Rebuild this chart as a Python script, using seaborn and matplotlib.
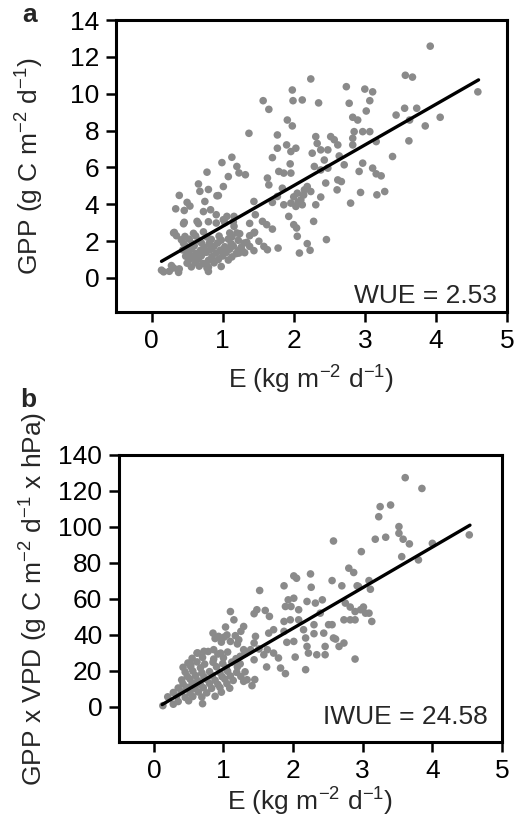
import numpy as np
import pandas as pd
import seaborn as sns
import matplotlib
matplotlib.use("Agg")
import matplotlib.pyplot as plt

# ---------------- data ----------------
# Panel a: E (kg m-2 d-1) vs GPP (g C m-2 d-1)
e_a = [0.14, 0.28, 0.31, 0.39, 0.78,
       0.39, 0.34, 0.50, 0.54, 0.46, 0.66, 0.68, 0.78, 0.80, 0.92, 0.99, 1.13, 1.20, 1.23, 1.32,
       1.08, 1.01, 0.94, 0.75, 0.73, 0.83, 0.91, 1.01, 1.06, 1.16, 0.64, 0.45, 0.31, 0.35,
       1.37, 1.57, 1.65, 1.44, 1.46, 1.63, 1.65, 1.70, 1.77, 1.77, 1.79, 1.86, 1.96, 1.91, 1.98,
       1.90, 1.96, 2.03, 1.95, 1.84, 1.86, 1.96, 1.93, 2.00, 2.04, 2.05, 1.98, 1.99, 2.12, 2.24,
       2.35, 2.26, 2.31, 2.33, 2.38, 2.43, 2.48, 2.52, 2.57, 2.62, 2.29, 2.38, 2.48, 2.45, 2.62,
       2.67, 2.61, 2.38, 2.31, 2.28, 2.15, 2.05, 2.10, 2.19, 2.24, 2.03, 2.12, 1.77, 1.70, 1.56,
       1.62, 1.70, 1.44, 1.38, 1.34, 1.44, 1.51, 1.58, 1.63, 1.78, 2.08, 2.19, 2.23, 2.46, 2.74,
       3.00, 3.11, 2.78, 3.07, 3.02, 2.83, 2.90, 2.85, 2.97, 3.07, 2.83, 2.83, 3.16, 2.71, 2.64,
       2.97, 3.11, 3.16, 3.23, 2.92, 2.94, 2.80, 3.17, 3.28, 3.39, 3.44, 3.56, 3.57, 3.67, 3.73,
       3.63, 3.62, 3.85, 3.92, 4.06, 4.59,
       1.16, 1.20, 1.23, 1.27, 2.00, 2.06, 2.14,
       0.46, 0.66, 0.80, 0.91, 1.03, 1.15, 1.38,
       0.32, 0.59, 0.73, 1.10, 1.24, 1.45,
       0.42, 0.53, 0.67, 0.84, 0.98, 1.08, 1.22,
       0.49, 0.60, 0.74, 0.88, 1.03, 1.15, 1.26, 1.38,
       0.52, 0.63, 0.77, 0.91, 1.05, 1.19, 1.31,
       0.53, 0.66, 0.80, 0.94, 1.08,
       0.56, 0.67, 0.80, 0.98,
       0.17, 0.25, 0.38, 0.80,
       0.47, 0.62, 0.78, 0.95, 1.13,
       0.45, 0.58, 0.70, 0.81, 0.93, 1.12, 1.30,
       0.44, 0.56, 0.69, 0.83, 0.97, 1.10, 1.22,
       0.48, 0.58, 0.70, 0.85, 1.00, 1.13,
       0.50, 0.62, 0.73, 0.88]
gpp_a = [0.42, 0.67, 0.54, 0.49, 0.54,
         4.48, 3.75, 4.10, 3.90, 3.66, 5.10, 4.70, 5.74, 4.80, 4.46, 6.26, 6.55, 6.05, 5.70, 5.60,
         5.50, 4.96, 4.47, 4.15, 3.60, 3.70, 3.43, 3.16, 3.34, 3.34, 3.07, 2.94, 2.44, 2.29,
         7.85, 9.62, 9.15, 4.15, 3.43, 5.42, 5.05, 6.53, 7.76, 7.04, 5.78, 5.69, 5.69, 8.57, 8.25,
         7.22, 6.86, 7.04, 6.19, 4.87, 3.97, 4.06, 3.34, 2.89, 2.71, 2.26, 10.20, 9.62, 9.66, 10.80,
         9.50, 6.77, 7.67, 7.30, 6.95, 6.40, 6.95, 7.67, 7.50, 7.22, 6.05, 5.86, 5.96, 5.15, 5.32,
         5.23, 4.78, 4.39, 3.97, 3.07, 4.78, 4.60, 4.24, 4.96, 4.69, 3.88, 3.97, 4.42, 4.10, 3.07,
         2.89, 2.65, 2.44, 2.29, 1.93, 1.48, 1.99, 1.71, 1.53, 1.62, 1.35, 1.86, 1.50, 2.08, 10.38,
         10.25, 10.10, 9.48, 9.62, 9.06, 8.72, 8.57, 7.94, 7.94, 7.94, 7.58, 7.22, 7.40, 6.14, 6.62,
         6.23, 5.96, 5.65, 5.54, 5.78, 4.64, 4.06, 4.51, 4.69, 6.59, 8.84, 9.21, 11.00, 10.90, 9.21,
         8.57, 7.44, 8.25, 12.58, 8.72, 10.10,
         2.80, 2.44, 1.35, 1.53, 4.40, 4.10, 4.50,
         3.02, 2.95, 3.05, 2.98, 3.00, 3.04, 2.96,
         2.47, 2.42, 2.50, 2.44, 2.40, 2.48,
         2.07, 2.10, 2.03, 2.09, 2.05, 2.11, 2.04,
         1.70, 1.74, 1.67, 1.72, 1.69, 1.73, 1.66, 1.71,
         1.36, 1.33, 1.39, 1.35, 1.38, 1.32, 1.37,
         0.98, 1.02, 0.95, 1.00, 0.97,
         0.60, 0.64, 0.58, 0.62,
         0.33, 0.36, 0.30, 0.35,
         2.25, 2.28, 2.22, 2.27, 2.23,
         1.88, 1.85, 1.91, 1.87, 1.90, 1.86, 1.89,
         1.52, 1.55, 1.50, 1.54, 1.51, 1.56, 1.49,
         1.18, 1.15, 1.20, 1.16, 1.19, 1.14,
         0.80, 0.83, 0.78, 0.82]

# Panel b: E (kg m-2 d-1) vs GPP x VPD
e_b = [0.13, 3.61, 3.85, 3.25, 3.40, 3.23, 3.52, 3.52, 3.58, 3.67, 4.00, 4.53, 3.18, 3.33, 2.58,
       2.98, 3.56, 3.80, 2.80, 2.87, 2.56, 2.70, 3.09, 3.11, 2.94, 2.25, 2.01, 2.05, 2.26, 1.87,
       1.52, 1.44, 1.48, 1.60, 1.66, 1.10, 1.15, 1.03, 0.85, 0.93, 1.01, 1.17, 1.10, 1.22, 1.93,
       2.01, 1.97, 1.89, 2.08, 1.87, 1.96, 2.08, 2.20, 2.32, 2.42, 2.39, 2.30, 2.15, 2.30, 2.44,
       2.58, 2.51, 2.56, 2.73, 2.82, 2.89, 2.75, 2.82, 2.89, 2.97, 3.01, 3.04, 3.09, 3.13, 2.92,
       2.73, 2.66, 2.61, 2.46, 2.46, 2.34, 2.22, 2.20, 2.18, 2.01, 1.91, 2.03, 2.18, 1.89, 1.82,
       1.79, 1.72, 1.63, 1.58, 1.62, 1.51, 1.44, 1.39, 1.29, 1.24, 2.89, 1.29, 1.41, 1.72, 1.87,
       1.44, 1.46, 1.65, 1.29,
       0.86, 0.96, 0.72, 0.62, 0.53, 0.88, 0.97, 1.05, 1.20, 1.25,
       0.63, 0.78, 0.92, 1.06, 1.31,
       0.49, 0.62, 0.73, 0.85, 0.99, 1.12, 1.24,
       0.45, 0.56, 0.69, 0.80, 0.95, 1.06, 1.19, 1.31,
       0.40, 0.52, 0.63, 0.76, 0.88, 1.02, 1.14, 1.34, 1.45,
       0.35, 0.47, 0.59, 0.71, 0.83, 0.95, 1.09,
       0.20, 0.33, 0.45, 0.56, 0.69, 0.88,
       0.28, 0.70,
       0.55, 0.70, 0.86, 1.00, 1.18,
       0.42, 0.53, 0.67, 0.90, 1.04, 1.20,
       0.48, 0.60, 0.72, 0.84, 0.98, 1.10, 1.25,
       0.42, 0.55, 0.67, 0.80, 0.92, 1.05,
       0.28, 0.40, 0.52, 0.64, 0.76, 0.97,
       0.35, 0.50]
iwue_b = [0.7, 127.4, 121.4, 111.3, 112.2, 105.7, 100.2, 96.5, 93.2, 90.6, 90.9, 95.6, 93.2, 94.3, 92.2,
          86.3, 83.5, 81.7, 77.1, 74.7, 70.2, 67.3, 70.2, 65.4, 66.9, 73.9, 72.8, 71.5, 66.5, 67.3,
          64.7, 51.8, 54.0, 53.6, 50.3, 53.0, 48.4, 44.4, 41.0, 39.2, 38.8, 39.6, 36.4, 37.3, 59.5,
          60.4, 55.8, 55.8, 54.0, 47.5, 48.4, 48.4, 58.6, 57.7, 59.5, 52.1, 45.7, 42.9, 40.7, 41.0,
          38.3, 45.7, 45.7, 48.4, 48.4, 48.4, 57.7, 55.5, 53.0, 54.0, 55.5, 52.1, 52.1, 47.5, 67.3,
          35.5, 33.6, 37.7, 33.6, 29.0, 29.0, 29.9, 33.6, 38.3, 36.4, 35.9, 27.7, 20.7, 18.5, 21.6,
          27.2, 29.9, 31.8, 29.0, 22.2, 32.2, 26.2, 31.8, 31.8, 28.1, 26.6, 14.2, 11.8, 42.9, 42.0,
          35.5, 39.2, 41.0, 44.7,
          31.8, 29.9, 30.9, 29.9, 23.5, 38.0, 36.0, 40.0, 35.0, 42.0,
          30.0, 30.8, 29.4, 30.5, 29.7,
          24.4, 25.0, 23.8, 24.8, 24.1, 24.9, 23.9,
          19.4, 19.9, 18.9, 19.6, 19.1, 19.8, 19.2, 19.5,
          15.0, 15.5, 14.6, 15.3, 14.8, 15.4, 14.7, 15.1, 15.2,
          10.5, 10.9, 10.2, 10.7, 10.3, 10.8, 10.4,
          5.6, 6.0, 5.3, 5.8, 5.5, 5.9,
          1.5, 1.8,
          27.0, 27.5, 26.6, 27.3, 26.8,
          22.0, 22.4, 21.7, 22.3, 21.8, 22.2,
          17.0, 17.4, 16.7, 17.3, 16.8, 17.2, 16.9,
          12.7, 13.1, 12.4, 13.0, 12.5, 12.9,
          8.0, 8.4, 7.7, 8.3, 7.8, 8.2,
          3.0, 3.4]

# regression line end points
fit_a_x = [0.14, 4.60]
fit_a_y = [0.90, 10.75]
fit_b_x = [0.12, 4.54]
fit_b_y = [1.3, 101.0]

yticks_a = [0, 2, 4, 6, 8, 10, 12, 14]
yticks_b = [0, 20, 40, 60, 80, 100, 120, 140]
xticks = [0, 1, 2, 3, 4, 5]

# ---------------- style ----------------
sns.set_style("ticks")
plt.rcParams["font.family"] = ["Liberation Sans", "DejaVu Sans"]
plt.rcParams["mathtext.fontset"] = "custom"
plt.rcParams["mathtext.rm"] = "Liberation Sans"
plt.rcParams["mathtext.it"] = "Liberation Sans:italic"
plt.rcParams["mathtext.bf"] = "Liberation Sans:bold"

FS = 19
PT_COLOR = "#8a8a8a"

fig = plt.figure(figsize=(5.15, 8.26), dpi=100)
ax_a = fig.add_axes([116 / 515, 1 - 312 / 826, 391 / 515, 292 / 826])
ax_b = fig.add_axes([119 / 515, 1 - 742 / 826, 383 / 515, 287 / 826])

df_a = pd.DataFrame({"E": e_a, "GPP": gpp_a})
df_b = pd.DataFrame({"E": e_b, "GV": iwue_b})

sns.scatterplot(data=df_a, x="E", y="GPP", ax=ax_a, color=PT_COLOR,
                s=30, edgecolor="none", linewidth=0, zorder=2)
sns.lineplot(x=fit_a_x, y=fit_a_y, ax=ax_a, color="black", lw=2.4, zorder=3)

sns.scatterplot(data=df_b, x="E", y="GV", ax=ax_b, color=PT_COLOR,
                s=30, edgecolor="none", linewidth=0, zorder=2)
sns.lineplot(x=fit_b_x, y=fit_b_y, ax=ax_b, color="black", lw=2.4, zorder=3)

for ax in (ax_a, ax_b):
    for sp in ax.spines.values():
        sp.set_linewidth(2.2)
        sp.set_color("black")
    ax.tick_params(direction="out", length=7, width=1.8, labelsize=FS,
                   colors="black")
    ax.tick_params(axis="x", pad=5)
    ax.tick_params(axis="y", pad=5)
    ax.set_xlim(-0.5, 5)
    ax.set_xticks(xticks)

ax_a.set_xlabel("E (kg m$^{-2}$ d$^{-1}$)", fontsize=FS, labelpad=8)
ax_b.set_xlabel("E (kg m$^{-2}$ d$^{-1}$)", fontsize=FS, labelpad=2)

ax_a.set_ylim(-1.85, 14)
ax_a.set_yticks(yticks_a)
ax_a.set_ylabel("GPP (g C m$^{-2}$ d$^{-1}$)", fontsize=FS, labelpad=17)
ax_a.text(0.975, 0.03, "WUE = 2.53", transform=ax_a.transAxes, ha="right",
          va="baseline", fontsize=FS)

ax_b.set_ylim(-19.5, 140)
ax_b.set_yticks(yticks_b)
ax_b.set_ylabel("GPP x VPD (g C m$^{-2}$ d$^{-1}$ x hPa)", fontsize=FS, labelpad=6)
ax_b.text(0.963, 0.062, "IWUE = 24.58", transform=ax_b.transAxes, ha="right",
          va="baseline", fontsize=FS)

fig.text(30 / 515, 1 - 15 / 826, "a", fontsize=FS, fontweight="bold",
         ha="center", va="center")
fig.text(28 / 515, 1 - 400 / 826, "b", fontsize=FS, fontweight="bold",
         ha="center", va="center")

fig.savefig("out.png", dpi=100)
